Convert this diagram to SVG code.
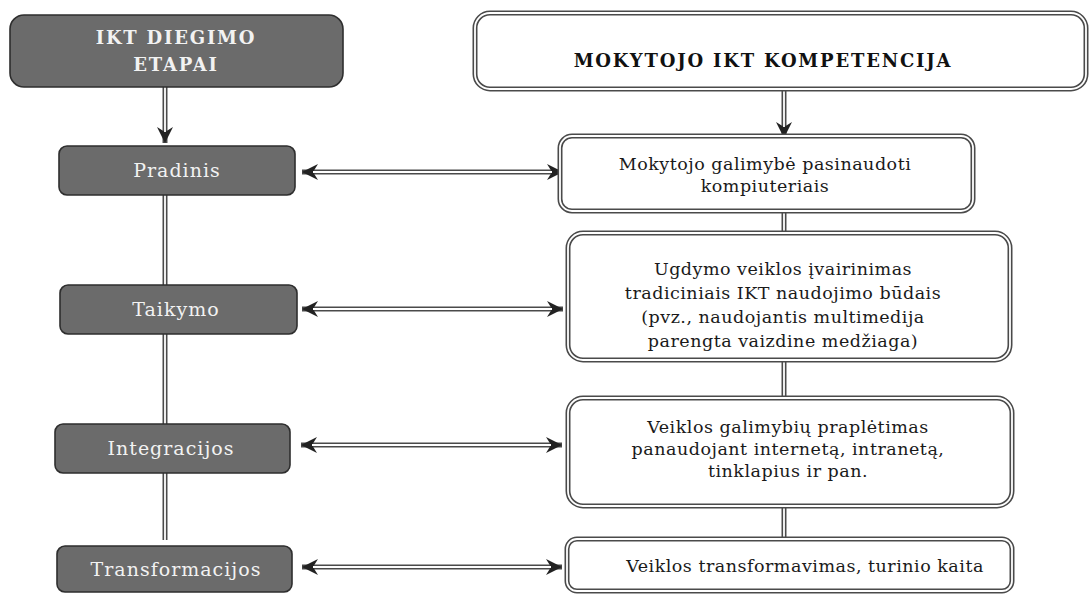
<svg xmlns="http://www.w3.org/2000/svg" width="1092" height="594" viewBox="0 0 1092 594">
<style>
.dark{fill:#6b6b6b;stroke:#2e2e2e;stroke-width:1.6}
.lt{font-family:"DejaVu Serif","Liberation Serif",serif;font-size:19px;fill:#f2f2f2;text-anchor:middle;letter-spacing:1px}
.hd{font-family:"DejaVu Serif","Liberation Serif",serif;font-weight:bold;font-size:18px;text-anchor:middle;letter-spacing:1.8px}
.rt{font-family:"DejaVu Serif","Liberation Serif",serif;font-size:17.5px;fill:#1a1a1a;text-anchor:middle;letter-spacing:0.5px}
.dbo{fill:#fff;stroke:#4a4a4a;stroke-width:5}
.dbi{fill:none;stroke:#fff;stroke-width:1.8}
.lo{stroke:#4a4a4a;stroke-width:5;fill:none}
.li{stroke:#fff;stroke-width:1.8;fill:none}
</style>
<defs>
<marker id="ah" markerUnits="userSpaceOnUse" markerWidth="18" markerHeight="18" refX="16" refY="8" orient="auto-start-reverse" viewBox="0 0 18 16">
<path d="M0,0 L16,8 L0,16 L5,8 Z" fill="#222"/>
</marker>
</defs>
<rect width="1092" height="594" fill="#fff"/>
<g id="connectors">
<line class="lo" x1="165" y1="87" x2="165" y2="143" marker-end="url(#ah)"/>
<line class="li" x1="165" y1="87" x2="165" y2="132"/>
<line class="lo" x1="784" y1="89" x2="784" y2="138" marker-end="url(#ah)"/>
<line class="li" x1="784" y1="89" x2="784" y2="127"/>
<line class="lo" x1="165" y1="195" x2="165" y2="285"/>
<line class="li" x1="165" y1="195" x2="165" y2="285"/>
<line class="lo" x1="165" y1="334" x2="165" y2="424"/>
<line class="li" x1="165" y1="334" x2="165" y2="424"/>
<line class="lo" x1="165" y1="473" x2="165" y2="540"/>
<line class="li" x1="165" y1="473" x2="165" y2="540"/>
<line class="lo" x1="784" y1="211" x2="784" y2="233"/>
<line class="li" x1="784" y1="211" x2="784" y2="233"/>
<line class="lo" x1="784" y1="360" x2="784" y2="398"/>
<line class="li" x1="784" y1="360" x2="784" y2="398"/>
<line class="lo" x1="784" y1="506" x2="784" y2="539"/>
<line class="li" x1="784" y1="506" x2="784" y2="539"/>
<line class="lo" x1="302" y1="172" x2="563" y2="172" marker-start="url(#ah)" marker-end="url(#ah)"/>
<line class="li" x1="313" y1="172" x2="552" y2="172"/>
<line class="lo" x1="302" y1="309" x2="563" y2="309" marker-start="url(#ah)" marker-end="url(#ah)"/>
<line class="li" x1="313" y1="309" x2="552" y2="309"/>
<line class="lo" x1="301" y1="445" x2="562" y2="445" marker-start="url(#ah)" marker-end="url(#ah)"/>
<line class="li" x1="312" y1="445" x2="551" y2="445"/>
<line class="lo" x1="302" y1="567" x2="562" y2="567" marker-start="url(#ah)" marker-end="url(#ah)"/>
<line class="li" x1="313" y1="567" x2="551" y2="567"/>
</g>
<g id="n-ikt-diegimo">
<rect class="dark" x="10" y="15" width="333" height="72" rx="14"/>
<text class="hd" x="176" y="44" fill="#f2f2f2">IKT DIEGIMO</text>
<text class="hd" x="176" y="71" fill="#f2f2f2">ETAPAI</text>
</g>
<g id="n-pradinis">
<rect class="dark" x="59" y="146" width="236" height="49" rx="8"/>
<text class="lt" x="177" y="177">Pradinis</text>
</g>
<g id="n-taikymo">
<rect class="dark" x="60" y="285" width="237" height="49" rx="8"/>
<text class="lt" x="176" y="316">Taikymo</text>
</g>
<g id="n-integracijos">
<rect class="dark" x="55" y="424" width="235" height="49" rx="8"/>
<text class="lt" x="171" y="455">Integracijos</text>
</g>
<g id="n-transformacijos">
<rect class="dark" x="57" y="546" width="235" height="46" rx="8"/>
<text class="lt" x="176" y="576">Transformacijos</text>
</g>
<g id="n-kompetencija">
<rect class="dbo" x="475" y="13" width="611" height="76" rx="15"/>
<rect class="dbi" x="475" y="13" width="611" height="76" rx="15"/>
<text class="hd" x="763" y="67" fill="#111">MOKYTOJO IKT KOMPETENCIJA</text>
</g>
<g id="n-galimybe">
<rect class="dbo" x="560" y="136" width="413" height="75" rx="12"/>
<rect class="dbi" x="560" y="136" width="413" height="75" rx="12"/>
<text class="rt" x="765" y="170">Mokytojo galimybė pasinaudoti</text>
<text class="rt" x="765" y="192">kompiuteriais</text>
</g>
<g id="n-ugdymo">
<rect class="dbo" x="568" y="233" width="442" height="127" rx="15"/>
<rect class="dbi" x="568" y="233" width="442" height="127" rx="15"/>
<text class="rt" x="783" y="275">Ugdymo veiklos įvairinimas</text>
<text class="rt" x="783" y="299">tradiciniais IKT naudojimo būdais</text>
<text class="rt" x="783" y="323">(pvz., naudojantis multimedija</text>
<text class="rt" x="783" y="347">parengta vaizdine medžiaga)</text>
</g>
<g id="n-praplétimas">
<rect class="dbo" x="568" y="398" width="444" height="108" rx="15"/>
<rect class="dbi" x="568" y="398" width="444" height="108" rx="15"/>
<text class="rt" x="788" y="433">Veiklos galimybių praplėtimas</text>
<text class="rt" x="788" y="455">panaudojant internetą, intranetą,</text>
<text class="rt" x="788" y="477">tinklapius ir pan.</text>
</g>
<g id="n-transformavimas">
<rect class="dbo" x="567" y="539" width="445" height="52" rx="10"/>
<rect class="dbi" x="567" y="539" width="445" height="52" rx="10"/>
<text class="rt" x="805" y="572">Veiklos transformavimas, turinio kaita</text>
</g>
</svg>
